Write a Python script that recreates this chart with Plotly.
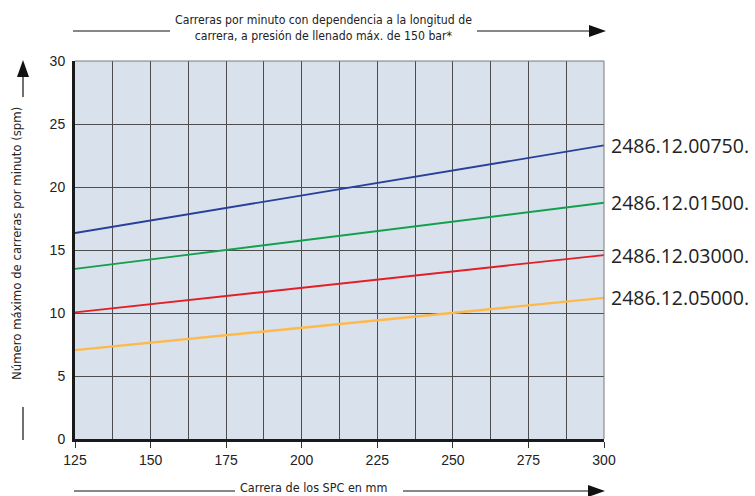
import plotly.graph_objects as go

# Stroke length (mm) and maximum strokes per minute for each gas spring model
stroke_mm = [125, 300]
series_names = ["2486.12.00750.", "2486.12.01500.", "2486.12.03000.", "2486.12.05000."]
spm_00750 = [16.35, 23.3]
spm_01500 = [13.5, 18.75]
spm_03000 = [10.05, 14.6]
spm_05000 = [7.05, 11.2]
series_values = [spm_00750, spm_01500, spm_03000, spm_05000]
series_colors = ["#27409a", "#12a04c", "#e21f26", "#fdb94a"]
series_widths = [1.8, 1.8, 1.8, 2.4]

x_ticks = [125, 150, 175, 200, 225, 250, 275, 300]
y_ticks = [0, 5, 10, 15, 20, 25, 30]

title_text = "Carreras por minuto con dependencia a la longitud de<br>carrera, a presión de llenado máx. de 150 bar*"
x_title = "Carrera de los SPC en mm"
y_title = "Número máximo de carreras por minuto (spm)"

W, H = 755, 496
L, R, T, B = 75, 604, 61, 439

COND = "Liberation Sans Narrow, DejaVu Sans Condensed, Arial Narrow, sans-serif"


def px(x):
    return (x - L) / (R - L)


def py(y):
    return (B - y) / (B - T)


fig = go.Figure()
for name, vals, col, w in zip(series_names, series_values, series_colors, series_widths):
    fig.add_trace(go.Scatter(x=stroke_mm, y=vals, mode="lines", name=name,
                             line=dict(color=col, width=w), showlegend=False,
                             hoverinfo="skip"))
    fig.add_annotation(x=stroke_mm[-1], y=vals[-1], xref="x", yref="y",
                       text=name, showarrow=False, xanchor="left", yanchor="middle",
                       xshift=5, font=dict(family="Open Sans, Noto Sans, sans-serif",
                                           size=19.5, color="#222222"))

shapes = []
# thin border on top and right of the plot area
shapes.append(dict(type="line", xref="paper", yref="paper", x0=0, x1=1, y0=1, y1=1,
                   line=dict(color="#7a7a7a", width=1)))
shapes.append(dict(type="line", xref="paper", yref="paper", x0=1, x1=1, y0=0, y1=1,
                   line=dict(color="#7a7a7a", width=1)))


def hline(x0, x1, y):
    shapes.append(dict(type="line", xref="paper", yref="paper",
                       x0=px(x0), x1=px(x1), y0=py(y), y1=py(y),
                       line=dict(color="#111111", width=1.2)))


def vline(x, y0, y1):
    shapes.append(dict(type="line", xref="paper", yref="paper",
                       x0=px(x), x1=px(x), y0=py(y0), y1=py(y1),
                       line=dict(color="#111111", width=1.2)))


def tri(points):
    path = "M " + " L ".join(f"{px(a):.5f},{py(b):.5f}" for a, b in points) + " Z"
    shapes.append(dict(type="path", xref="paper", yref="paper", path=path,
                       fillcolor="#111111", line=dict(color="#111111", width=0)))


# top arrow around the title
hline(73, 170, 31)
hline(477, 592, 31)
tri([(606, 31), (589, 25), (589, 37)])
# bottom arrow around the x-axis title
hline(74, 235, 491)
hline(403, 591, 491)
tri([(605, 491), (588, 485), (588, 497)])
# left arrow along the y-axis title
vline(23, 97, 74)
tri([(23, 60), (17, 77), (29, 77)])
vline(23, 407, 440)

fig.update_layout(shapes=shapes)

fig.add_annotation(x=px(323), y=py(28), xref="paper", yref="paper", text=title_text,
                   showarrow=False, xanchor="center", yanchor="middle",
                   font=dict(family=COND, size=12.2, color="#222222"))
fig.add_annotation(x=px(313), y=py(488), xref="paper", yref="paper", text=x_title,
                   showarrow=False, xanchor="center", yanchor="middle",
                   font=dict(family=COND, size=12.5, color="#222222"))
fig.add_annotation(x=px(17), y=py(244), xref="paper", yref="paper", text=y_title,
                   showarrow=False, xanchor="center", yanchor="middle", textangle=-90,
                   font=dict(family=COND, size=13, color="#222222"))

fig.update_xaxes(range=[125, 300], tickvals=x_ticks, ticktext=[str(v) for v in x_ticks],
                 showgrid=True, gridcolor="#4d4d4d", gridwidth=1.4,
                 minor=dict(dtick=12.5, showgrid=True, gridcolor="#4d4d4d", gridwidth=1.4),
                 showline=True, linecolor="#1a1a1a", linewidth=3,
                 ticks="outside", ticklen=6, tickcolor="#333333", tickwidth=1,
                 tickfont=dict(family="Liberation Sans, Arial, sans-serif", size=14, color="#222222"),
                 zeroline=False, fixedrange=True)
fig.update_yaxes(range=[0, 30], tickvals=y_ticks, ticktext=[str(v) for v in y_ticks],
                 showgrid=True, gridcolor="#4d4d4d", gridwidth=1.4,
                 showline=True, linecolor="#1a1a1a", linewidth=3,
                 ticks="", ticklabelstandoff=4,
                 tickfont=dict(family="Liberation Sans, Arial, sans-serif", size=14, color="#222222"),
                 zeroline=False, fixedrange=True)

fig.update_layout(width=W, height=H, margin=dict(l=L, r=W - R, t=T, b=H - B),
                  plot_bgcolor="#d9e1ed", paper_bgcolor="#ffffff", showlegend=False)

fig.write_html("out.html")
